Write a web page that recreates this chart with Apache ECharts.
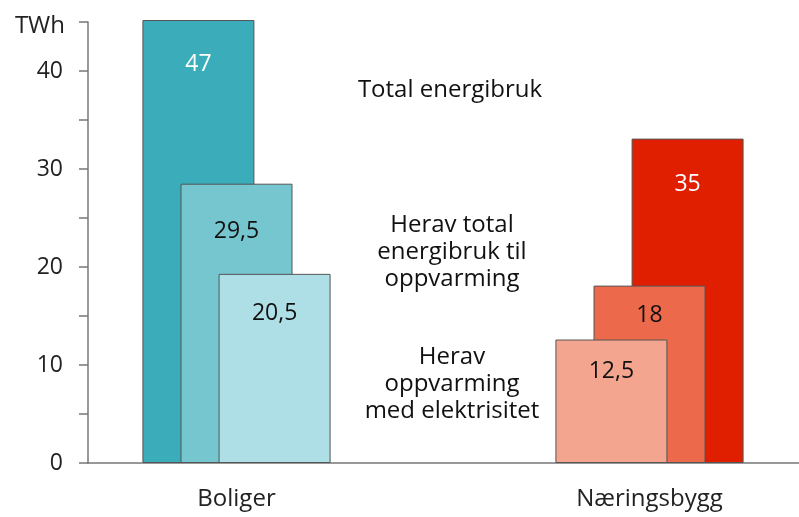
<!DOCTYPE html>
<html>
<head>
<meta charset="utf-8">
<script src="https://cdn.jsdelivr.net/npm/echarts@6/dist/echarts.min.js"></script>
<style>
  html, body { margin: 0; padding: 0; background: #fff; }
  #chart { width: 799px; height: 517px; }
</style>
</head>
<body>
<div id="chart"></div>
<script>
// data (bar heights as drawn, labels as printed)
var categories = ['Boliger', 'Næringsbygg'];
var totalUse = [45.2, 33.1];
var heatingUse = [28.5, 18.1];
var electricHeating = [19.3, 12.6];
var totalText = ['47', '35'];
var heatingText = ['29,5', '18'];
var electricText = ['20,5', '12,5'];
var yTicks = [0, 10, 20, 30, 40];

var FONT = 'Open Sans';

// each part of a building group; slot = left-to-right position per category
var parts = [
  { values: totalUse, texts: totalText, colors: ['#3aacba', '#e01f00'], labelColor: '#fff', z: 2, slot: [0, 2], dist: [33, 34] },
  { values: heatingUse, texts: heatingText, colors: ['#76c6cf', '#ec6a4b'], labelColor: '#111', z: 3, slot: [1, 1], dist: [36, 18] },
  { values: electricHeating, texts: electricText, colors: ['#afdfe6', '#f4a590'], labelColor: '#111', z: 4, slot: [2, 0], dist: [28, 20] }
];

var series = [];
for (var s = 0; s < 3; s++) {
  categories.forEach(function (cat, ci) {
    parts.forEach(function (p) {
      if (p.slot[ci] !== s) return;
      var data = categories.map(function (c, k) {
        if (k !== ci) return '-';
        return {
          value: p.values[k],
          label: { formatter: p.texts[k], distance: p.dist[k] }
        };
      });
      series.push({
        type: 'bar',
        xAxisIndex: 0,
        yAxisIndex: 0,
        stack: 'slot' + s,
        barWidth: 112,
        barGap: '-66%',
        clip: false,
        z: p.z,
        itemStyle: { color: p.colors[ci], borderColor: '#555', borderWidth: 1 },
        label: {
          show: true,
          position: 'insideTop',
          color: p.labelColor,
          fontFamily: FONT,
          fontSize: 23
        },
        emphasis: { disabled: true },
        data: data
      });
    });
  });
}

var myChart = echarts.init(document.getElementById('chart'));
myChart.setOption({
  animation: false,
  backgroundColor: '#fff',
  grid: [
    // bar grid is wider than the canvas so the two groups sit where the reference has them
    { left: 30, width: 826, top: 22, bottom: 54, outerBoundsMode: 'none', containLabel: false },
    { left: 88, right: 0, top: 22, bottom: 54, outerBoundsMode: 'none', containLabel: false }
  ],
  xAxis: [
    {
      gridIndex: 0,
      type: 'category',
      data: categories,
      axisLine: { show: false },
      axisTick: { show: false },
      axisLabel: { color: '#222', fontFamily: FONT, fontSize: 24, margin: 24 }
    },
    {
      gridIndex: 1,
      type: 'category',
      data: categories,
      axisLine: { show: true, lineStyle: { color: '#777', width: 1.5 } },
      axisTick: { show: false },
      axisLabel: { show: false }
    }
  ],
  yAxis: [
    { gridIndex: 0, type: 'value', min: 0, max: 45, show: false },
    {
      gridIndex: 1,
      type: 'value',
      min: 0,
      max: 45,
      interval: 5,
      name: 'TWh',
      nameLocation: 'end',
      nameGap: -4,
      nameTextStyle: {
        color: '#222', fontFamily: FONT, fontSize: 24,
        align: 'right', verticalAlign: 'middle', padding: [0, 23, 0, 0]
      },
      axisLine: { show: true, lineStyle: { color: '#777', width: 1.5 } },
      axisTick: { show: true, length: 9, lineStyle: { color: '#777', width: 1.5 } },
      splitLine: { show: false },
      axisLabel: {
        color: '#222', fontFamily: FONT, fontSize: 23, margin: 25,
        formatter: function (v) { return yTicks.indexOf(v) >= 0 ? String(v) : ''; }
      }
    }
  ],
  graphic: [
    {
      type: 'text', x: 450, y: 90,
      style: { text: 'Total energibruk', fill: '#111', font: '24px "Open Sans"', align: 'center', verticalAlign: 'middle' }
    },
    {
      type: 'text', x: 452, y: 252,
      style: { text: 'Herav total\nenergibruk til\noppvarming', fill: '#111', font: '24px "Open Sans"', align: 'center', verticalAlign: 'middle', lineHeight: 27 }
    },
    {
      type: 'text', x: 452, y: 384,
      style: { text: 'Herav\noppvarming\nmed elektrisitet', fill: '#111', font: '24px "Open Sans"', align: 'center', verticalAlign: 'middle', lineHeight: 27 }
    }
  ],
  series: series
});
</script>
</body>
</html>
